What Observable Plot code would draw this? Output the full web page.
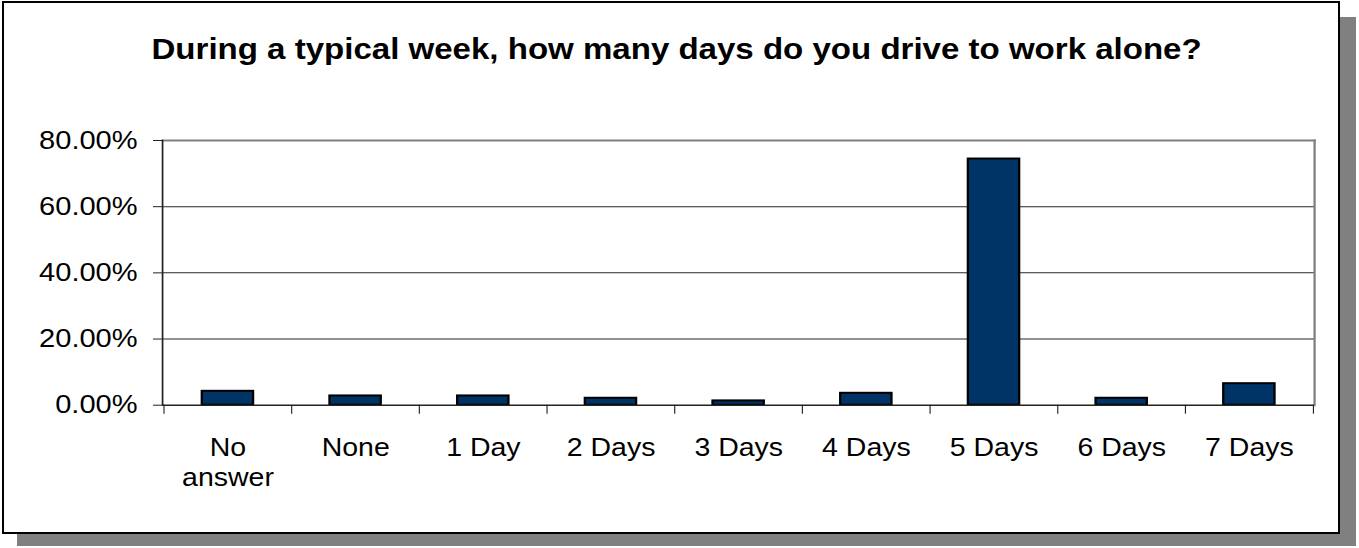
<!DOCTYPE html>
<html><head><meta charset="utf-8">
<script src="https://cdn.jsdelivr.net/npm/d3@7"></script>
<script src="https://cdn.jsdelivr.net/npm/@observablehq/plot@0.6"></script>
<style>
html,body{margin:0;padding:0;background:#fff;overflow:hidden}
#wrap{position:relative;width:1359px;height:548px}
#shadow{position:absolute;left:17px;top:17px;width:1339px;height:529px;background:#808080}
#frame{position:absolute;left:2px;top:1px;width:1334px;height:529px;background:#fff;border:2px solid #000}
#chart{position:absolute;left:0;top:0}
</style></head><body>
<div id="wrap"><div id="shadow"></div><div id="frame"></div><div id="chart"></div></div>
<script>
const title = "During a typical week, how many days do you drive to work alone?";
const categories = ["No answer", "None", "1 Day", "2 Days", "3 Days", "4 Days", "5 Days", "6 Days", "7 Days"];
const shares = [0.042, 0.028, 0.028, 0.021, 0.013, 0.036, 0.744, 0.021, 0.065];
const yTicks = [0, 0.2, 0.4, 0.6, 0.8];

const SX = 1.14;
const W = 1359 / SX, H = 548;
const mL = 162 / SX, mR = (1359 - 1314) / SX, mT = 140, mB = 548 - 404.7;
const step = (W - mL - mR) / categories.length;
const data = categories.map((c, i) => ({category: c, share: shares[i]}));
const font = "'Liberation Sans', Arial, Helvetica, sans-serif";

const plot = Plot.plot({
  width: W, height: H,
  marginLeft: mL, marginRight: mR, marginTop: mT, marginBottom: mB,
  style: {background: "transparent", fontFamily: font, color: "#000", overflow: "visible"},
  x: {domain: categories, paddingInner: 0.6, paddingOuter: 0.3, label: null},
  y: {domain: [0, 0.8], label: null},
  marks: [
    Plot.gridY(yTicks.slice(1, -1), {stroke: "#000", strokeOpacity: 0.85, strokeWidth: 1}),
    Plot.frame({anchor: "top", stroke: "#808080", strokeWidth: 2}),
    Plot.frame({anchor: "right", stroke: "#808080", strokeWidth: 2}),
    Plot.barY(data, {x: "category", y: "share", fill: "#003366", stroke: "#000", strokeWidth: 2}),
    Plot.ruleY([0], {stroke: "#222", strokeWidth: 1.5}),
    Plot.frame({anchor: "left", stroke: "#222", strokeWidth: 1.5}),
    Plot.axisY({ticks: yTicks, tickFormat: d3.format(".2%"), tickSize: 9 / SX, tickPadding: 14, fontSize: 25.5, stroke: "#222"}),
    Plot.axisX({ticks: categories, text: null, tickSize: 9, dx: -step / 2, stroke: "#222"}),
    Plot.axisX({ticks: categories.slice(-1), text: null, tickSize: 9, dx: step / 2, stroke: "#222"}),
    Plot.axisX({tickSize: 0, tickPadding: 28.6, fontSize: 25, lineHeight: 1.23,
      tickFormat: d => d.replace(" answer", "\nanswer")}),
    Plot.text([title], {frameAnchor: "top", lineAnchor: "bottom", dy: -(140 - 58),
      dx: 676 / SX - (mL + (W - mR)) / 2, fontSize: 29, fontWeight: "bold"})
  ]
});
plot.setAttribute("width", 1359);
plot.setAttribute("height", 548);
plot.setAttribute("preserveAspectRatio", "none");
plot.style.width = "1359px";
plot.style.height = "548px";
plot.style.maxWidth = "none";
document.getElementById("chart").appendChild(plot);
</script>
</body></html>
